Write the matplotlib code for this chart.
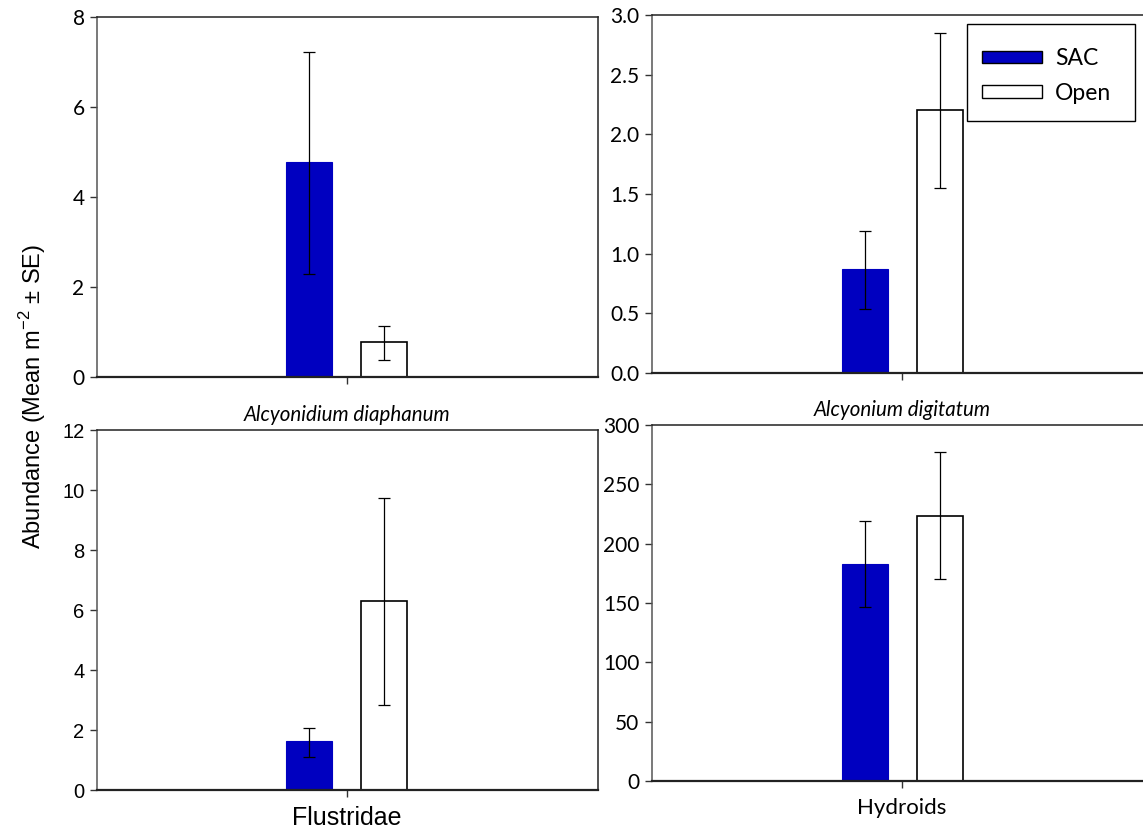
import matplotlib
matplotlib.use("Agg")
import matplotlib.pyplot as plt
from matplotlib.patches import Patch, Rectangle

W, H = 1143, 834
DPI = 100

taxa = ["Alcyonidium diaphanum", "Alcyonium digitatum", "Flustridae", "Hydroids"]
groups = ["SAC", "Open"]
sac_mean = [4.78, 0.87, 1.62, 183]
sac_lo = [2.30, 0.54, 1.10, 147]
sac_hi = [7.22, 1.19, 2.07, 219]
open_mean = [0.77, 2.20, 6.30, 223]
open_lo = [0.38, 1.55, 2.83, 170]
open_hi = [1.13, 2.85, 9.75, 277]
yticks = [[0, 2, 4, 6, 8], [0.0, 0.5, 1.0, 1.5, 2.0, 2.5, 3.0],
          [0, 2, 4, 6, 8, 10, 12], [0, 50, 100, 150, 200, 250, 300]]
ytick_fmt = ["{:.0f}", "{:.1f}", "{:.0f}", "{:.0f}"]
italic = [True, True, False, False]

BLUE = "#0000C0"
calibri = ["Lato", "DejaVu Sans"]
arial = ["Liberation Sans", "DejaVu Sans"]
tick_fonts = [calibri, calibri, arial, calibri]
tick_sizes = [15, 15, 14.5, 15]
label_fonts = [calibri, calibri, arial, calibri]
label_sizes = [14.8, 14.8, 18, 16]

# panel boxes in pixels: left, right, top, bottom
boxes = [(97, 598, 17, 377), (652, 1144, 15, 373),
         (97, 598, 430, 790), (652, 1150, 425, 781)]
label_y = [415, 410, 818, 808]

fig = plt.figure(figsize=(W / DPI, H / DPI), dpi=DPI)

def px_ax(l, r, t, b):
    return fig.add_axes([l / W, 1 - b / H, (r - l) / W, (b - t) / H])

offset = 0.15
bw = 0.184
for i, (l, r, t, b) in enumerate(boxes):
    ax = px_ax(l, r, t, b)
    ax.set_xlim(-1, -1 + (r - l) / 250.0)
    ax.bar([-offset], [sac_mean[i]], width=bw, color=BLUE, edgecolor=BLUE, linewidth=0.8, zorder=2)
    ax.bar([offset], [open_mean[i]], width=bw, color="white", edgecolor="black", linewidth=1.2, zorder=2)
    ax.errorbar([-offset], [sac_mean[i]],
                yerr=[[sac_mean[i] - sac_lo[i]], [sac_hi[i] - sac_mean[i]]],
                fmt="none", ecolor="black", elinewidth=0.9, capsize=4.5, capthick=0.9, zorder=3)
    ax.errorbar([offset], [open_mean[i]],
                yerr=[[open_mean[i] - open_lo[i]], [open_hi[i] - open_mean[i]]],
                fmt="none", ecolor="black", elinewidth=0.9, capsize=4.5, capthick=0.9, zorder=3)
    ax.set_ylim(yticks[i][0], yticks[i][-1])
    ax.set_yticks(yticks[i])
    ax.set_yticklabels([ytick_fmt[i].format(v) for v in yticks[i]],
                       fontfamily=tick_fonts[i], fontsize=tick_sizes[i])
    ax.set_xticks([0])
    ax.set_xticklabels([""])
    ax.tick_params(axis="both", direction="out", length=5, width=1, color="#333333", pad=4)
    for s in ax.spines.values():
        s.set_linewidth(1.1)
        s.set_color("#222222")
    ax.spines["left"].set_color("#555555")
    ax.spines["bottom"].set_linewidth(1.6)
    fig.text((l + 250) / W, 1 - label_y[i] / H, taxa[i],
             ha="center", va="center", fontsize=label_sizes[i],
             fontstyle="italic" if italic[i] else "normal", fontfamily=label_fonts[i])
    if i == 1:
        frame = Rectangle((967 / W, 1 - 121 / H), 168 / W, 97 / H, transform=fig.transFigure,
                          facecolor="white", edgecolor="black", linewidth=1.0,
                          zorder=4.9, clip_on=False)
        ax.add_artist(frame)
        handles = [Patch(facecolor=BLUE, edgecolor="black", linewidth=1.0, label=groups[0]),
                   Patch(facecolor="white", edgecolor="black", linewidth=1.0, label=groups[1])]
        leg = ax.legend(handles=handles, loc="upper left",
                        bbox_to_anchor=(982 / W, 1 - 48 / H),
                        bbox_transform=fig.transFigure,
                        frameon=False,
                        prop={"family": calibri, "size": 16.5}, handlelength=2.6,
                        handleheight=0.45, borderpad=0, labelspacing=0.6,
                        handletextpad=0.6, borderaxespad=0)

fig.text(33 / W, 1 - 396 / H, "Abundance (Mean m$^{\\mathregular{-2}}$ ± SE)", rotation=90,
         ha="center", va="center", fontsize=17, fontfamily=arial)

fig.savefig("out.png", dpi=DPI)
